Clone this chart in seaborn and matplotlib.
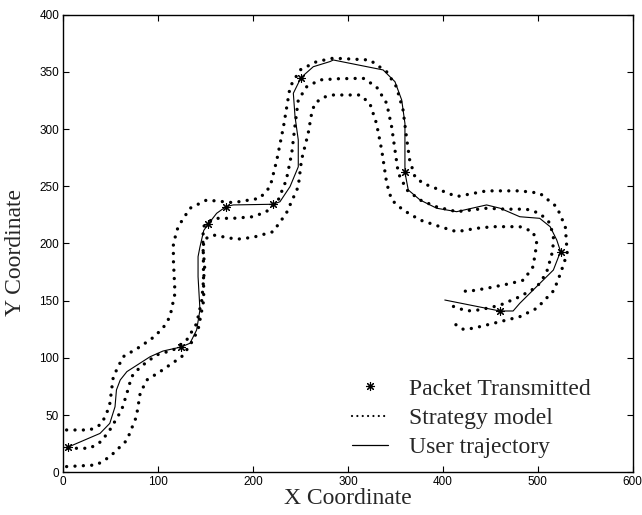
import numpy as np
import pandas as pd
import matplotlib.pyplot as plt
from matplotlib.lines import Line2D
import seaborn as sns

# user trajectory (solid)
traj_x = [5, 38.7, 49, 54.5, 56, 60, 67, 91.4, 105, 124, 133.5, 140.5, 144, 142, 142, 144, 148,
          152.8, 161.6, 171.4, 179, 221, 228.3, 238.9, 247.6, 247.6, 244.2, 242.4, 250.5, 263.4,
          281, 284.5, 337, 349.5, 356.6, 360, 360, 363.5, 376, 393.5, 414.5, 446, 460.4, 481,
          502, 513, 520, 524, 516.4, 502, 481, 474, 460, 402]
traj_y = [22, 34, 42.8, 57.3, 72, 80.7, 88, 101, 106, 109.5, 112.8, 124.4, 142, 171, 188.5, 197,
          211.4, 217, 226.4, 232.2, 233.7, 234.3, 236.5, 249.7, 267, 290.5, 310.8, 331.3, 345,
          354.5, 359, 360.4, 351.7, 341.4, 325.4, 305, 262.2, 246.8, 238, 230.8, 227.8, 233.7,
          230.8, 223.4, 222, 214.7, 203, 193, 176.8, 165, 147.7, 141, 141, 150.6]

# strategy model: centre line
mid_x = [5, 28, 40, 49, 61.5, 67, 72, 81, 98, 116, 130, 140.5, 146, 149, 147, 147.5, 158, 179,
         200, 214, 226.5, 235, 240.7, 244, 247.6, 256.5, 270.5, 290, 316, 330, 340.8, 346,
         349.5, 353, 362, 376, 393.5, 414.5, 446, 467, 488, 502, 513, 517, 514.6, 509, 499,
         481, 460, 439, 425, 411, 405.7]
mid_y = [21, 21, 27, 37, 54.5, 69, 83.6, 92, 102.5, 107, 115.6, 130, 150.6, 180, 197, 214.7,
         222, 222, 223.4, 227.8, 238, 255.5, 278.8, 302, 325.4, 337, 343, 344, 344.4, 337,
         322.5, 302, 281.7, 261.4, 246.8, 238, 232, 227.8, 230.8, 230, 230, 226.4, 217.7, 203,
         190, 174, 162, 153.5, 146, 142, 141, 145, 148]

# strategy model: left offset line
up_x = [3.5, 28, 40, 45.7, 49, 52.7, 63, 81, 95, 105, 112.4, 117.7, 116, 116, 121, 133.5, 151,
        179, 207, 218, 225, 232, 239, 249.5, 267, 284.5, 323, 340.8, 351, 358, 362, 365, 370.5,
        379, 414.5, 446, 481, 502, 520, 529, 531, 524, 517, 499, 481, 460, 432, 421.5, 414.5,
        405.7]
up_y = [37, 37, 42, 51.6, 60, 83.6, 101, 109.8, 118, 126, 136, 156.5, 185.6, 200, 214.7, 230.8,
        238, 235.7, 239.5, 249.7, 273, 302, 337, 351.7, 359, 362, 360.4, 350, 337, 316.7, 290.5,
        273, 258.4, 252.6, 241, 246, 246, 244, 232, 214.7, 191.4, 174, 159, 143.4, 136, 131.6,
        125.9, 125, 128.8, 131]

# strategy model: right offset line
lo_x = [3.5, 35, 49, 67, 77, 81, 88, 102, 124.7, 133.5, 142, 148, 147.5, 148, 158, 182.7, 200,
        221, 235, 247.6, 251, 258, 261.7, 265, 274, 284.5, 312.6, 323, 330, 335.5, 340.8, 346,
        358, 376, 397, 414.5, 435.6, 453, 481, 495, 499, 497, 495, 485, 471, 446, 425, 416]
lo_y = [5, 6.4, 13.6, 28, 48.6, 69, 80.7, 88, 101, 111, 124.4, 150.6, 194, 203.5, 207.4, 203.7,
        205.4, 210.3, 226.4, 249.7, 273, 296, 313.8, 322.5, 327.8, 329.8, 329.8, 322.5, 305,
        281.7, 252.6, 238, 229.3, 220.5, 214.7, 210.3, 213.3, 214.7, 214.7, 210.3, 200, 190,
        179.7, 168, 165, 160.8, 157.9, 160.8]

# packets
pkt_x = [5.3, 124, 152.8, 171.4, 221.3, 250.5, 360, 524, 460]
pkt_y = [21.8, 109.5, 217, 232.2, 234.3, 345, 262.2, 193, 141]

sns.set_style("ticks")
plt.rcParams['font.family'] = ['Liberation Sans', 'DejaVu Sans']

fig, ax = plt.subplots(figsize=(6.42, 5.15), dpi=100)
fig.subplots_adjust(left=0.0986, right=0.9855, bottom=0.0829, top=0.9715)

dot_kw = dict(color='black', linewidth=2.4, linestyle=(0, (0.01, 2.5)),
              dash_capstyle='round', sort=False, estimator=None, ax=ax)
for xs, ys in [(up_x, up_y), (mid_x, mid_y), (lo_x, lo_y)]:
    sns.lineplot(x=xs, y=ys, **dot_kw)

sns.lineplot(x=traj_x, y=traj_y, color='black', linewidth=0.8, sort=False, estimator=None, ax=ax)
sns.scatterplot(x=pkt_x, y=pkt_y, marker=(8, 2, 0), s=32, color='black', linewidth=0.8,
                zorder=5, ax=ax)

ax.set_xlim(0, 600)
ax.set_ylim(0, 400)
ax.set_xticks(np.arange(0, 601, 100))
ax.set_yticks(np.arange(0, 401, 50))
ax.tick_params(direction='in', length=4, width=0.8, top=True, right=True, labelsize=8.5,
               colors='black', pad=3)
for s in ax.spines.values():
    s.set_visible(True)
    s.set_linewidth(1.0)
    s.set_color('black')

ax.set_xlabel('X Coordinate', family='Liberation Serif', fontsize=17, labelpad=0)
ax.set_ylabel('Y Coordinate', family='Liberation Serif', fontsize=17)
ax.yaxis.set_label_coords(-0.066, 0.48)

handles = [
    Line2D([], [], color='black', marker=(8, 2, 0), markersize=6.5, linestyle='none', markeredgewidth=0.8),
    Line2D([], [], color='black', linewidth=1.6, linestyle=(0, (0.01, 2.4)), dash_capstyle='round'),
    Line2D([], [], color='black', linewidth=0.9),
]
labels = ['Packet Transmitted', 'Strategy model', 'User trajectory']
ax.legend(handles, labels, loc='lower left', bbox_to_anchor=(0.47, -0.015), frameon=False,
          prop={'family': 'Liberation Serif', 'size': 17}, handlelength=1.5,
          handletextpad=0.9, labelspacing=0.32)

fig.savefig('out.png', dpi=100)
